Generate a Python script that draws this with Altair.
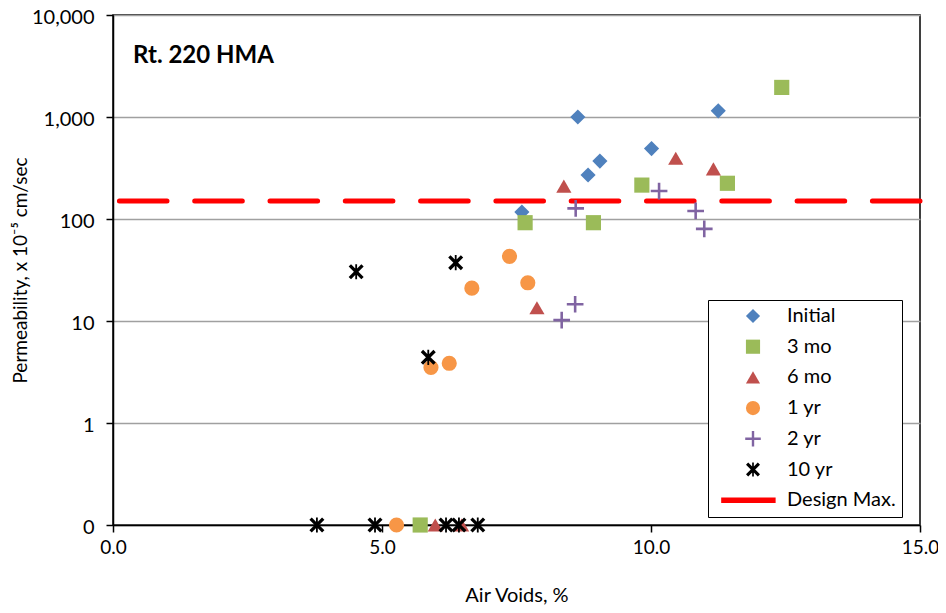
import altair as alt
import pandas as pd

# Permeability vs air voids, Rt. 220 HMA (zeros drawn at the 0.1 axis floor)

series = ["Initial", "3 mo", "6 mo", "1 yr", "2 yr", "10 yr", "Design Max."]
colors = ["#4F81BD", "#9BBB59", "#C0504D", "#F79646", "#8064A2", "#000000", "#FF0000"]

initial_x = [7.60, 8.64, 8.83, 9.05, 10.01, 11.25]
initial_y = [117, 1000, 270, 370, 490, 1150]

mo3_x = [7.66, 8.93, 9.83, 11.42, 12.43, 5.71]
mo3_y = [92, 92, 215, 224, 1950, 0.1]

mo6_x = [8.38, 10.46, 11.16, 7.88, 5.99, 6.48]
mo6_y = [210, 394, 310, 13.5, 0.1, 0.1]

yr1_x = [7.37, 7.71, 6.67, 5.91, 6.25, 5.27]
yr1_y = [43, 23.7, 21, 3.5, 3.85, 0.1]

yr2_x = [8.60, 10.15, 10.83, 10.99, 8.34, 8.59]
yr2_y = [127, 188, 120, 80, 10.2, 14.6]

yr10_x = [4.52, 6.37, 5.86, 3.79, 4.87, 6.19, 6.43, 6.78]
yr10_y = [30.4, 37.3, 4.4, 0.1, 0.1, 0.1, 0.1, 0.1]

design_max = 150

frames = []
for name, xs, ys in [
    ("Initial", initial_x, initial_y),
    ("3 mo", mo3_x, mo3_y),
    ("6 mo", mo6_x, mo6_y),
    ("1 yr", yr1_x, yr1_y),
    ("2 yr", yr2_x, yr2_y),
    ("10 yr", yr10_x, yr10_y),
]:
    frames.append(pd.DataFrame({"series": name, "voids": xs, "perm": ys}))
points = pd.concat(frames, ignore_index=True)

plus_path = "M-0.17,-1.1H0.17V-0.17H1.1V0.17H0.17V1.1H-0.17V0.17H-1.1V-0.17H-0.17Z"
star_path = (
    "M-0.12,-1L0.12,-1L0.12,1L-0.12,1Z"
    "M-0.68,-0.99L0.99,0.68L0.68,0.99L-0.99,-0.68Z"
    "M0.99,-0.68L-0.68,0.99L-0.99,0.68L0.68,-0.99Z"
)
line_path = "M-4.5,-0.38H3.2V0.38H-4.5Z"
shapes = ["diamond", "square", "triangle-up", "circle", plus_path, star_path, line_path]

FONT = "Lato"

y_scale = alt.Scale(type="log", domain=[0.1, 10000], nice=False)

pts = (
    alt.Chart(points)
    .mark_point(filled=True, size=230, opacity=1, strokeWidth=0)
    .encode(
        x=alt.X(
            "voids:Q",
            scale=alt.Scale(domain=[0, 15], nice=False),
            axis=alt.Axis(
                values=[0, 5, 10, 15],
                format=".1f",
                title="Air Voids, %",
                grid=False,
                tickSize=7,
                labelFontSize=19,
                labelPadding=6,
                labelFlush=False,
                titlePadding=28,
            ),
        ),
        y=alt.Y(
            "perm:Q",
            scale=y_scale,
            axis=alt.Axis(
                values=[0.1, 1, 10, 100, 1000, 10000],
                labelExpr="datum.value < 1 ? '0' : format(datum.value, ',')",
                title="Permeability, x 10⁻⁵ cm/sec",
                titleFontSize=19,
                tickSize=7,
                labelPadding=12,
                labelOffset=2,
                labelFlush=False,
                titlePadding=1,
            ),
        ),
        color=alt.Color(
            "series:N",
            scale=alt.Scale(domain=series, range=colors),
            legend=alt.Legend(
                orient="none",
                legendX=595,
                legendY=285,
                title=None,
                strokeColor="black",
                fillColor="white",
                padding=6,
                symbolSize=200,
                symbolOffset=29,
                labelOffset=24,
                rowPadding=10.7,
                symbolOpacity=1,
                symbolStrokeWidth=0,
                labelExpr="datum.label + '\u00a0\u00a0\u00a0\u00a0\u00a0\u00a0\u00a0'",
            ),
        ),
        shape=alt.Shape("series:N", scale=alt.Scale(domain=series, range=shapes), legend=None),
    )
)

rule = (
    alt.Chart(pd.DataFrame({"design": [design_max]}))
    .mark_rule(color="#FF0000", strokeWidth=5, strokeDash=[47.6, 27.7], strokeCap="round")
    .encode(y=alt.Y("design:Q", scale=y_scale))
)

chart = (
    alt.layer(rule, pts)
    .properties(
        width=807,
        height=510,
        autosize=alt.AutoSizeParams(type="none"),
        padding={"left": 105, "top": 7, "right": 18, "bottom": 80},
        title=alt.TitleParams(
            "Rt. 220 HMA",
            anchor="start",
            frame="group",
            dx=20,
            dy=80,
            offset=0,
            baseline="alphabetic",
            fontSize=24,
            fontWeight="bold",
            font=FONT,
            color="black",
        ),
    )
    .configure_view(stroke="black", strokeWidth=1.5)
    .configure_axis(
        labelFont=FONT,
        titleFont=FONT,
        labelFontSize=20,
        titleFontSize=20,
        titleFontWeight="normal",
        labelColor="black",
        titleColor="black",
        domainColor="black",
        domainWidth=1.5,
        tickColor="black",
        tickWidth=1.5,
        gridColor="#A0A0A0",
        gridWidth=1.5,
    )
    .configure_legend(labelFont=FONT, labelFontSize=20, labelColor="black")
)

chart.save("out.html", embed_options={"renderer": "svg", "actions": False})
